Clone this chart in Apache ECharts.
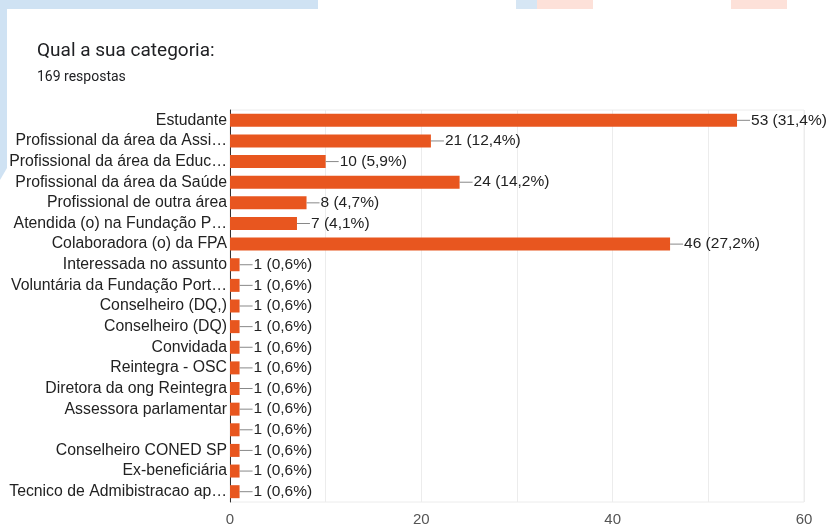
<!DOCTYPE html>
<html>
<head>
<meta charset="utf-8">
<style>
  html, body { margin: 0; padding: 0; background: #fff; }
  #chart { width: 830px; height: 527px; }
</style>
<script src="https://cdn.jsdelivr.net/npm/echarts@6/dist/echarts.min.js"></script>
</head>
<body>
<div id="chart"></div>
<script>
const categorias = [
  'Estudante',
  'Profissional da área da Assi…',
  'Profissional da área da Educ…',
  'Profissional da área da Saúde',
  'Profissional de outra área',
  'Atendida (o) na Fundação P…',
  'Colaboradora (o) da FPA',
  'Interessada no assunto',
  'Voluntária da Fundação Port…',
  'Conselheiro (DQ,)',
  'Conselheiro (DQ)',
  'Convidada',
  'Reintegra - OSC',
  'Diretora da ong Reintegra',
  'Assessora parlamentar',
  '',
  'Conselheiro CONED SP',
  'Ex-beneficiária',
  'Tecnico de Admibistracao ap…'
]
const respostas = [53, 21, 10, 24, 8, 7, 46, 1, 1, 1, 1, 1, 1, 1, 1, 1, 1, 1, 1]
const percentuais = ['31,4', '12,4', '5,9', '14,2', '4,7', '4,1', '27,2',
  '0,6', '0,6', '0,6', '0,6', '0,6', '0,6', '0,6', '0,6', '0,6', '0,6', '0,6', '0,6']
const xTicks = [0, 20, 40, 60]

const chart = echarts.init(document.getElementById('chart'))

const option = {
  backgroundColor: '#fff',
  animation: false,
  graphic: [
    // faixa azul do fundo (marca d'agua)
    { type: 'rect', shape: { x: 0, y: 0, width: 318, height: 9 }, style: { fill: '#cfe2f3' }, z: -10 },
    { type: 'polygon', shape: { points: [[0, 0], [7, 0], [7, 168], [0, 180]] }, style: { fill: '#cfe2f3' }, z: -10 },
    { type: 'rect', shape: { x: 516, y: 0, width: 21, height: 9 }, style: { fill: '#d6e6f4' }, z: -10 },
    { type: 'rect', shape: { x: 537, y: 0, width: 56, height: 9 }, style: { fill: '#fde1d9' }, z: -10 },
    { type: 'rect', shape: { x: 731, y: 0, width: 56, height: 9 }, style: { fill: '#fde1d9' }, z: -10 },
    {
      type: 'text', left: 37, top: 42,
      style: { text: 'Qual a sua categoria:', fill: '#202124', font: '19px Roboto' }
    },
    {
      type: 'text', left: 37, top: 70,
      style: { text: '169 respostas', fill: '#202124', font: '14px Roboto' }
    }
  ],
  grid: {
    left: 230, right: 26, top: 110, bottom: 25,
    show: true, borderColor: '#ececec', borderWidth: 1
  },
  xAxis: {
    type: 'value',
    min: 0, max: 60, interval: 10,
    axisLine: { show: false },
    axisTick: { show: false },
    splitLine: { lineStyle: { color: '#ececec' } },
    axisLabel: {
      color: '#555', fontSize: 15, fontFamily: 'Liberation Sans', margin: 10,
      formatter: v => xTicks.includes(v) ? String(v) : ''
    }
  },
  yAxis: {
    type: 'category',
    data: categorias,
    inverse: true,
    axisLine: { lineStyle: { color: '#333' } },
    axisTick: { show: false },
    axisLabel: { interval: 0, color: '#222', fontSize: 15.8, fontFamily: 'Liberation Sans', margin: 3 }
  },
  series: [{
    type: 'bar',
    data: respostas,
    barCategoryGap: '37%',
    itemStyle: { color: '#e8561f' },
    label: {
      show: true,
      position: 'right',
      distance: 0,
      formatter: p => '{l|}{t|' + p.value + ' (' + percentuais[p.dataIndex] + '%)}',
      rich: {
        l: { width: 13, height: 1, backgroundColor: '#888' },
        t: { color: '#222', fontSize: 15.5, fontFamily: 'Liberation Sans', padding: [0, 0, 0, 1] }
      }
    }
  }]
}

chart.setOption(option)
window.addEventListener('resize', () => {
  chart.resize()
})
</script>
</body>
</html>
